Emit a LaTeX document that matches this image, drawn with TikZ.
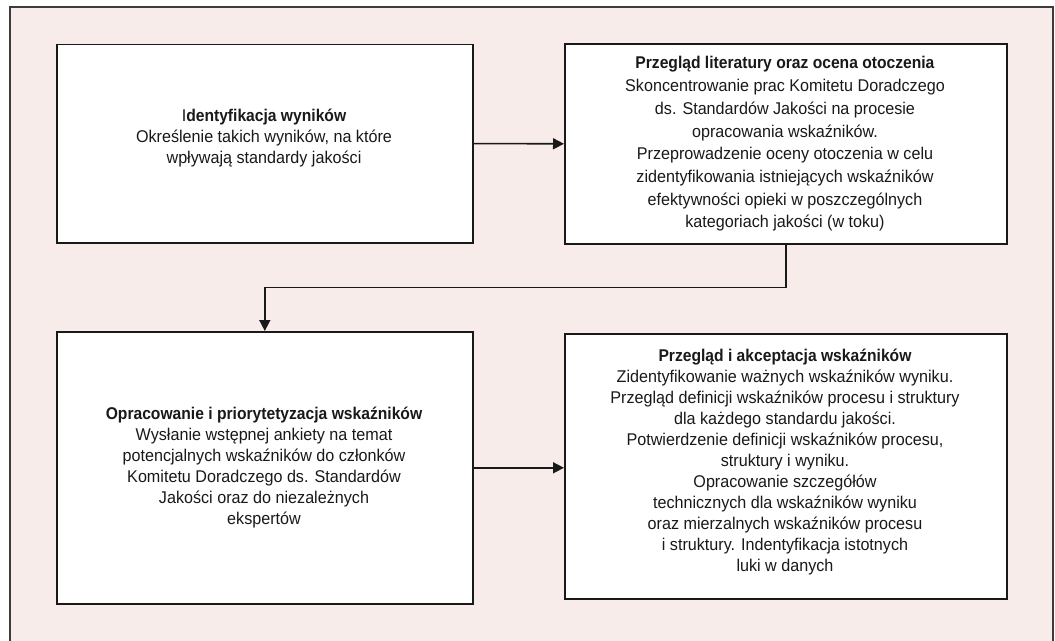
\documentclass[tikz,border=0pt]{standalone}
\usepackage{fontspec}
\setmainfont{Liberation Sans}[FakeStretch=0.95, BoldFeatures={FakeStretch=0.92}]
\usetikzlibrary{arrows.meta}
\definecolor{bgpink}{RGB}{248,236,234}
\definecolor{framecol}{RGB}{60,60,60}
\definecolor{ink}{RGB}{25,25,25}
\tikzset{
  box/.style={draw=ink, line width=1.6pt, fill=white, inner sep=0pt, anchor=north west},
  txt/.style={align=center, font=\fontsize{17}{21}\selectfont, text=ink, inner sep=0pt},
  txtwide/.style={txt, font=\fontsize{17}{22.7}\selectfont},
  arr/.style={draw=ink, line width=1.6pt, -{Triangle[length=11pt,width=11pt]}}
}
\begin{document}
\begin{tikzpicture}[x=1pt,y=-1pt]
\useasboundingbox (0,0) rectangle (1055,640);
\fill[bgpink] (10,7) rectangle (1053,645);
\draw[framecol, line width=2.2pt] (10,645) -- (10,7) -- (1053,7) -- (1053,645);

\node[box, minimum width=416pt, minimum height=198.5pt] (b1) at (56,43.5) {};
\node[box, minimum width=442pt, minimum height=200pt] (b2) at (564,43) {};
\node[box, minimum width=416pt, minimum height=272pt] (b3) at (56,331) {};
\node[box, minimum width=442pt, minimum height=265pt] (b4) at (564,333) {};

\node[txt] (t1) at (264,138) {I\textbf{dentyfikacja wyników}\\
Określenie takich wyników, na które\\
wpływają standardy jakości};

\node[txtwide] (t2) at (785,144) {\textbf{Przegląd literatury oraz ocena otoczenia}\\
Skoncentrowanie prac Komitetu Doradczego\\
ds. Standardów Jakości na procesie\\
opracowania wskaźników.\\
Przeprowadzenie oceny otoczenia w celu\\
zidentyfikowania istniejących wskaźników\\
efektywności opieki w poszczególnych\\
kategoriach jakości (w toku)};

\node[txt] (t3) at (264,468) {\textbf{Opracowanie i priorytetyzacja wskaźników}\\
Wysłanie wstępnej ankiety na temat\\
potencjalnych wskaźników do członków\\
Komitetu Doradczego ds. Standardów\\
Jakości oraz do niezależnych\\
ekspertów};

\node[txt] (t4) at (785,462) {\textbf{Przegląd i akceptacja wskaźników}\\
Zidentyfikowanie ważnych wskaźników wyniku.\\
Przegląd definicji wskaźników procesu i struktury\\
dla każdego standardu jakości.\\
Potwierdzenie definicji wskaźników procesu,\\
struktury i wyniku.\\
Opracowanie szczegółów\\
technicznych dla wskaźników wyniku\\
oraz mierzalnych wskaźników procesu\\
i struktury. Indentyfikacja istotnych\\
luki w danych};

\draw[arr] (b1.east) -- (b2.west);
\draw[arr] (b2.south) -- ++(0,43) -| (b3.north);
\draw[arr] (b3.east) -- (b3.east -| b4.west);
\end{tikzpicture}
\end{document}
